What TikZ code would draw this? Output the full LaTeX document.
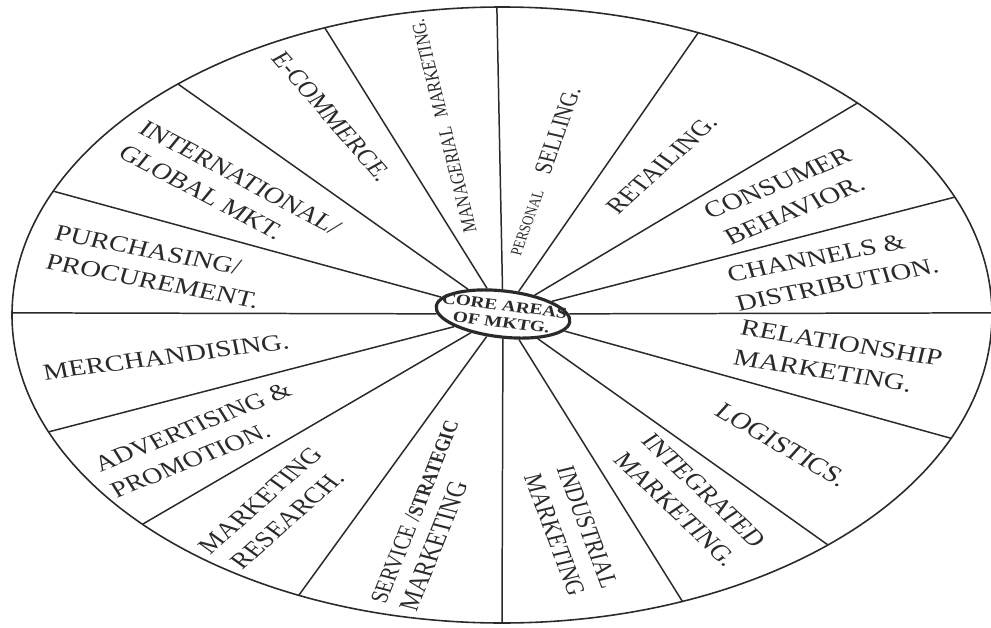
\documentclass[tikz,border=0pt]{standalone}
\usepackage{fontspec}
\setmainfont{Liberation Serif}
\usetikzlibrary{shapes.geometric}
\definecolor{ink}{HTML}{2A2A2A}

\begin{document}
\begin{tikzpicture}[x=0.02cm,y=0.02cm,
  rim/.style={draw=ink, line width=0.9pt},
  spoke/.style={draw=ink, line width=0.85pt},
  core/.style={draw=ink, line width=1.8pt, ellipse, fill=white, text=ink, inner xsep=-7pt, inner ysep=1.5pt, align=center, font=\bfseries\fontsize{8.8}{9.5}\selectfont, xscale=1.25, rotate=-8.7},
  area/.style={text=ink, inner sep=0pt, xscale=1.25, font=\linespread{1.3}\fontsize{#1}{#1}\selectfont}]
\useasboundingbox (0,0) rectangle (991,627);
\coordinate (c) at (502,312);
\draw[rim] (c) ellipse [x radius=490, y radius=308];
\node[core] (core) at (503,313) {CORE AREAS\\OF MKTG.};
\path (c) ++(90.6:490 and 308) coordinate (top)
  (c) ++(66.4:490 and 308) coordinate (sellret)
  (c) ++(43.5:490 and 308) coordinate (retcons)
  (c) ++(22.5:490 and 308) coordinate (conschan)
  (c) ++(0.4:490 and 308) coordinate (rgt)
  (c) ++(336.4:490 and 308) coordinate (relog)
  (c) ++(311.7:490 and 308) coordinate (logint)
  (c) ++(291.6:490 and 308) coordinate (intind)
  (c) ++(270:490 and 308) coordinate (bot)
  (c) ++(245.5:490 and 308) coordinate (servres)
  (c) ++(222.8:490 and 308) coordinate (resadv)
  (c) ++(202.3:490 and 308) coordinate (advmer)
  (c) ++(179.6:490 and 308) coordinate (lft)
  (c) ++(156.3:490 and 308) coordinate (purint)
  (c) ++(131.4:490 and 308) coordinate (intecom)
  (c) ++(111.2:490 and 308) coordinate (ecomman);
\draw[spoke] (core) -- (top);
\draw[spoke] (core) -- (sellret);
\draw[spoke] (core) -- (retcons);
\draw[spoke] (core) -- (conschan);
\draw[spoke] (core) -- (rgt);
\draw[spoke] (core) -- (relog);
\draw[spoke] (core) -- (logint);
\draw[spoke] (core) -- (intind);
\draw[spoke] (core) -- (bot);
\draw[spoke] (core) -- (servres);
\draw[spoke] (core) -- (resadv);
\draw[spoke] (core) -- (advmer);
\draw[spoke] (core) -- (lft);
\draw[spoke] (core) -- (purint);
\draw[spoke] (core) -- (intecom);
\draw[spoke] (core) -- (ecomman);
\node[area=9.1, rotate=101.3] (managerial) at (444,501) {MANAGERIAL\hspace{0.2cm}MARKETING.};
\node[area=12.5, rotate=-55.2] (ecommerce) at (332,510) {E-COMMERCE.};
\node[area=12.9, align=left, rotate=-33.4] (global) at (230,437) {INTERNATIONAL/\\GLOBAL MKT.};
\node[area=13, align=left, rotate=-13.6] (purchasing) at (157,360) {PURCHASING/\\PROCUREMENT.};
\node[area=11.5, rotate=73.8] (selling) at (543,456) {{\fontsize{7.4}{7.4}\selectfont PERSONAL}\hspace{0.34cm}SELLING.};
\node[area=12.7, rotate=48.8] (retailing) at (662,462) {RETAILING.};
\node[area=13.2, align=center, rotate=27.4] (consumer) at (786,430) {CONSUMER\\BEHAVIOR.};
\node[area=13, align=left, rotate=13.6] (channels) at (833,357) {CHANNELS \&\\DISTRIBUTION.};
\node[area=13.1, rotate=9.2] (merch) at (166,270) {MERCHANDISING.};
\node[area=12.8, align=left, rotate=26.6] (advert) at (201,187) {ADVERTISING \&\\PROMOTION.};
\node[area=12.8, align=center, rotate=48] (research) at (274,117) {MARKETING\\RESEARCH.};
\node[area=11.3, align=left, rotate=72.1] (service) at (430,111) {SERVICE /{\bfseries\fontsize{9.7}{9.7}\selectfont STRATEGIC}\\{\fontsize{12.8}{12.8}\selectfont MARKETING}};
\node[area=12, align=center, rotate=-73.3] (industrial) at (571,96) {INDUSTRIAL\\MARKETING};
\node[area=12.8, align=center, rotate=-50.1] (integrated) at (690,127) {INTEGRATED\\MARKETING.};
\node[area=13.3, rotate=-36] (logistics) at (782,182) {LOGISTICS.};
\node[area=13.2, align=left, rotate=-11.1] (relation) at (838,269) {RELATIONSHIP\\MARKETING.};
\end{tikzpicture}
\end{document}
